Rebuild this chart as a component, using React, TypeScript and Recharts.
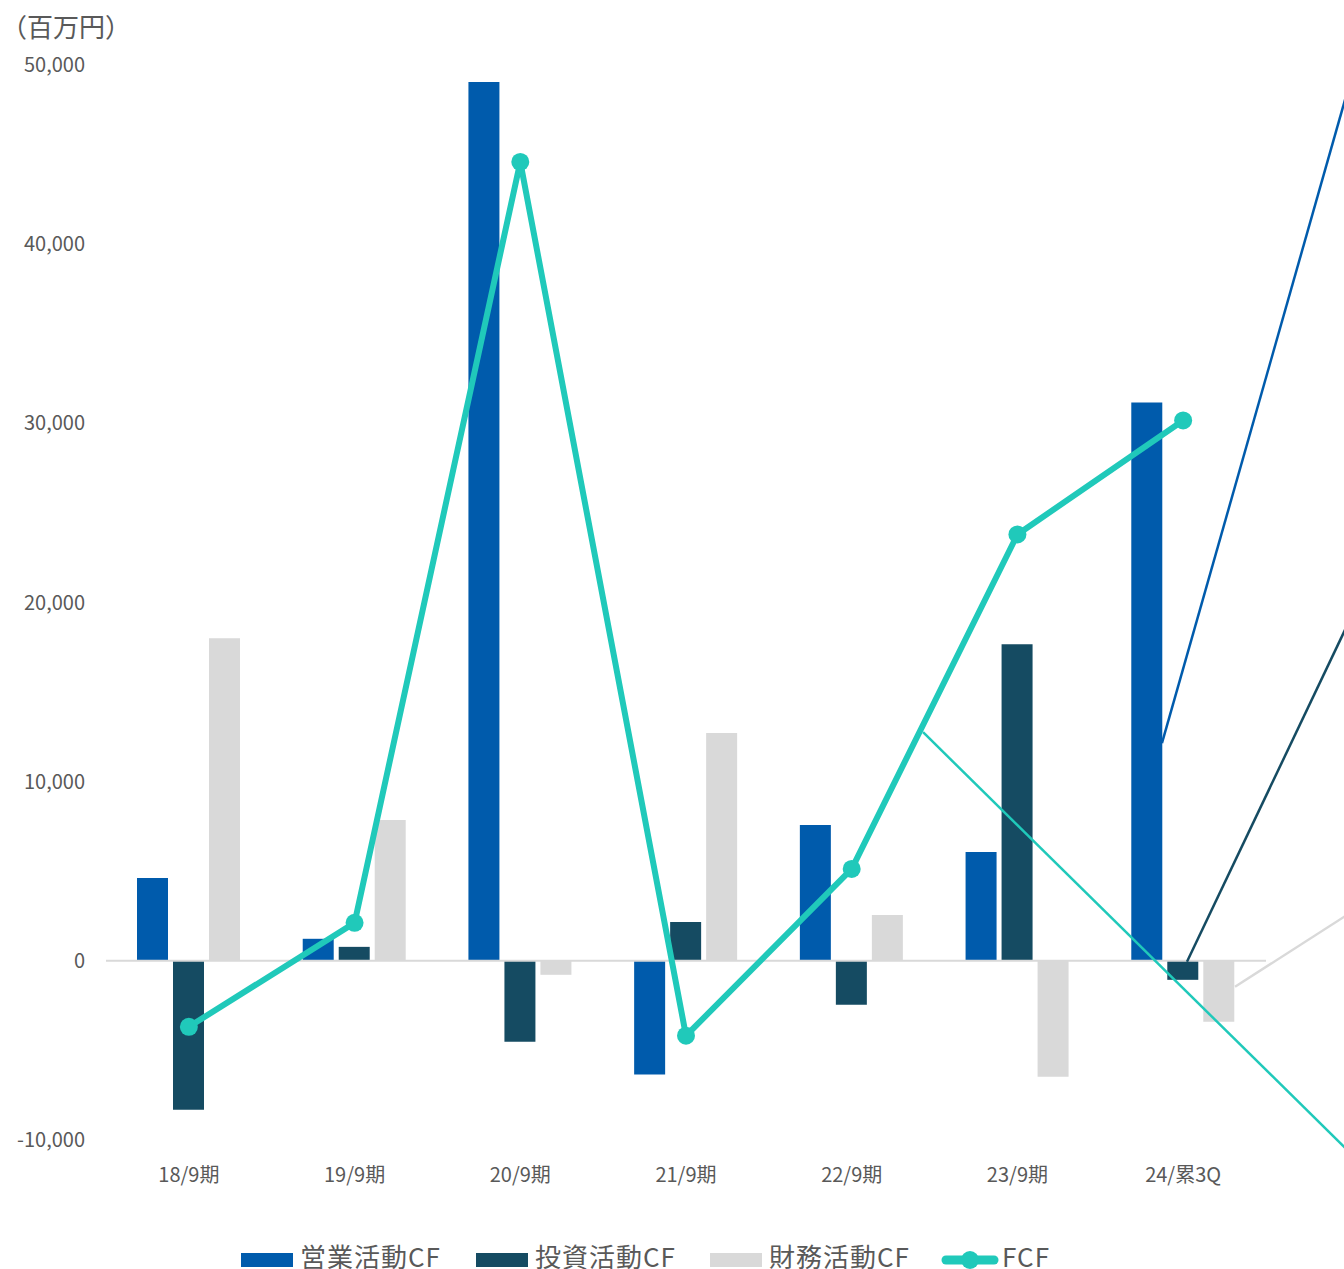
import React from "react";
import { Bar, ComposedChart, Line, ReferenceLine, XAxis, YAxis } from "recharts";

const periods = ["18/9期", "19/9期", "20/9期", "21/9期", "22/9期", "23/9期", "24/累3Q"];
const operatingCF = [4630, 1230, 49050, -6350, 7580, 6080, 31160];
const investingCF = [-8310, 780, -4520, 2170, -2450, 17670, -1060];
const financingCF = [18000, 7860, -780, 12710, 2560, -6470, -3400];
const fcf = [-3680, 2120, 44590, -4180, 5130, 23800, 30160];
const yTicks = [-10000, 0, 10000, 20000, 30000, 40000, 50000];

const BLUE = "#005BAC";
const DARK = "#154B62";
const GRAY = "#D9D9D9";
const TEAL = "#20C9BA";
const TEXT = "#595959";
const FONT = '"Noto Sans CJK JP", "Noto Sans", sans-serif';

// leader lines of the data labels that were dragged off the chart (x = category index)
const leaderLines = [
  { from: [5.873, 12150], to: [7.0, 48770], color: BLUE },
  { from: [6.024, -56], to: [7.0, 18900], color: DARK },
  { from: [6.314, -1450], to: [7.0, 2620], color: GRAY },
  { from: [4.431, 12760], to: [7.0, -10630], color: TEAL },
];

const data = periods.map((period, i) => ({
  period,
  idx: i,
  op: operatingCF[i],
  inv: investingCF[i],
  fin: financingCF[i],
  fcf: fcf[i],
}));

const legendItems = [
  { name: "営業活動CF", color: BLUE, kind: "bar", left: 241 },
  { name: "投資活動CF", color: DARK, kind: "bar", left: 476 },
  { name: "財務活動CF", color: GRAY, kind: "bar", left: 710 },
  { name: "FCF", color: TEAL, kind: "line", left: 941 },
];

const fmt = (v: number) => v.toLocaleString("en-US");

export default function App() {
  return (
    <div
      style={{
        position: "absolute",
        left: 0,
        top: 0,
        width: 1344,
        height: 1269,
        background: "#fff",
        fontFamily: FONT,
        overflow: "hidden",
      }}
    >
      <div
        style={{
          position: "absolute",
          left: 1,
          top: 10,
          fontSize: 26,
          color: TEXT,
          lineHeight: "32px",
        }}
      >
        （百万円）
      </div>
      <ComposedChart
        width={1344}
        height={1269}
        data={data}
        margin={{ top: 65, right: 78, bottom: 99, left: 0 }}
        barGap={5}
        style={{ fontFamily: FONT }}
      >
        <XAxis
          dataKey="period"
          axisLine={false}
          tickLine={false}
          interval={0}
          height={30}
          tickMargin={22}
          tick={{ fill: TEXT, fontSize: 20 }}
        />
        <XAxis
          xAxisId="idx"
          dataKey="idx"
          type="number"
          domain={[0, 6]}
          padding={{ left: 83, right: 83 }}
          allowDataOverflow
          hide
        />
        <YAxis
          width={106}
          domain={[-10000, 50000]}
          ticks={yTicks}
          interval={0}
          axisLine={false}
          tickLine={false}
          tickMargin={15}
          tickFormatter={fmt}
          tick={{ fill: TEXT, fontSize: 20 }}
        />
        <ReferenceLine y={0} stroke={GRAY} strokeWidth={2} />
        <Bar dataKey="op" name="営業活動CF" fill={BLUE} barSize={31} isAnimationActive={false} />
        <Bar dataKey="inv" name="投資活動CF" fill={DARK} barSize={31} isAnimationActive={false} />
        <Bar dataKey="fin" name="財務活動CF" fill={GRAY} barSize={31} isAnimationActive={false} />
        <Line
          dataKey="fcf"
          name="FCF"
          type="linear"
          stroke={TEAL}
          strokeWidth={6}
          dot={{ r: 9, fill: TEAL, stroke: TEAL, strokeWidth: 0 }}
          activeDot={false}
          isAnimationActive={false}
        />
        {leaderLines.map((l, i) => (
          <ReferenceLine
            key={i}
            xAxisId="idx"
            ifOverflow="visible"
            segment={[
              { x: l.from[0], y: l.from[1] },
              { x: l.to[0], y: l.to[1] },
            ]}
            stroke={l.color}
            strokeWidth={2.5}
          />
        ))}
      </ComposedChart>
      {legendItems.map((item) => (
        <div
          key={item.name}
          style={{
            position: "absolute",
            left: item.left,
            top: 1242,
            height: 28,
            lineHeight: "28px",
            display: "flex",
            alignItems: "center",
            fontSize: 26,
            letterSpacing: 1,
            color: TEXT,
            whiteSpace: "nowrap",
          }}
        >
          {item.kind === "bar" ? (
            <span
              style={{
                display: "inline-block",
                width: 52,
                height: 14,
                background: item.color,
                marginRight: 7,
                marginTop: 8,
              }}
            />
          ) : (
            <svg width={58} height={22} style={{ marginRight: 3, marginTop: 8 }}>
              <line x1={5} y1={11} x2={53} y2={11} stroke={item.color} strokeWidth={9} strokeLinecap="round" />
              <circle cx={29} cy={11} r={9} fill={item.color} />
            </svg>
          )}
          <span>{item.name}</span>
        </div>
      ))}
    </div>
  );
}
